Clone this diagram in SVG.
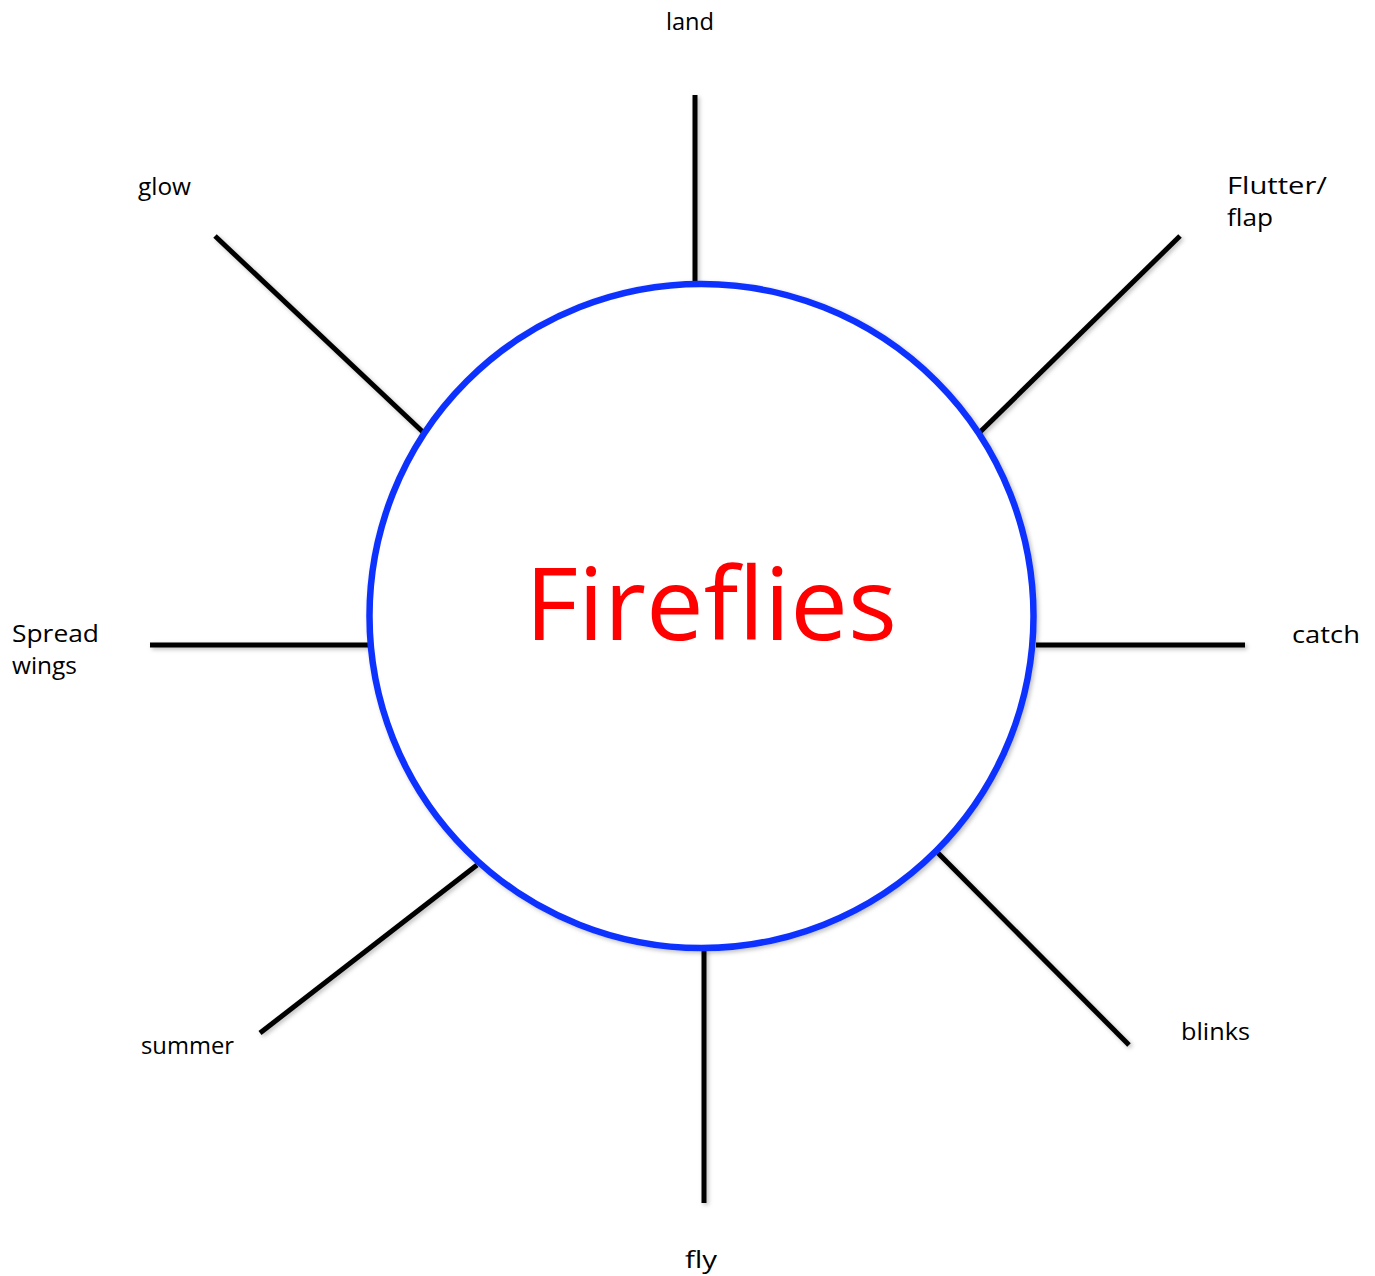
<svg xmlns="http://www.w3.org/2000/svg" width="1375" height="1276" viewBox="0 0 1375 1276">
<defs>
<filter id="sh" x="-10%" y="-10%" width="120%" height="120%">
<feDropShadow dx="2" dy="2" stdDeviation="2" flood-color="#000" flood-opacity="0.25"/>
</filter>
<style>
.spoke{stroke:#000;stroke-width:5;fill:none}
.lbl{font-family:"Comic Sans MS","Open Sans","DejaVu Sans",sans-serif;font-size:24px;fill:#000}
.title{font-family:"Comic Sans MS","Open Sans","DejaVu Sans",sans-serif;font-size:100px;fill:#ff0000}
</style>
</defs>
<rect width="1375" height="1276" fill="#fff"/>
<g id="connectors" filter="url(#sh)">
<line class="spoke" x1="695" y1="95" x2="695" y2="284"/>
<line class="spoke" x1="1180" y1="236" x2="978" y2="434"/>
<line class="spoke" x1="1036" y1="645" x2="1245" y2="645"/>
<line class="spoke" x1="938" y1="853" x2="1129" y2="1045"/>
<line class="spoke" x1="704" y1="949" x2="704" y2="1203"/>
<line class="spoke" x1="477" y1="865" x2="260" y2="1033"/>
<line class="spoke" x1="150" y1="645" x2="369" y2="645"/>
<line class="spoke" x1="215" y1="236" x2="425" y2="434"/>
</g>
<g id="center">
<circle cx="701.5" cy="616" r="332" fill="#fff" stroke="#1133ff" stroke-width="6.5" filter="url(#sh)"/>
<text class="title" x="525" y="640" textLength="372" lengthAdjust="spacingAndGlyphs">Fireflies</text>
</g>
<g id="n-land"><text class="lbl" x="666" y="30" textLength="48" lengthAdjust="spacingAndGlyphs">land</text></g>
<g id="n-flutter"><text class="lbl" x="1227" y="194" textLength="100" lengthAdjust="spacingAndGlyphs">Flutter/</text><text class="lbl" x="1227" y="226" textLength="46" lengthAdjust="spacingAndGlyphs">flap</text></g>
<g id="n-catch"><text class="lbl" x="1292" y="643" textLength="68" lengthAdjust="spacingAndGlyphs">catch</text></g>
<g id="n-blinks"><text class="lbl" x="1181" y="1040" textLength="69" lengthAdjust="spacingAndGlyphs">blinks</text></g>
<g id="n-fly"><text class="lbl" x="685" y="1268" textLength="32" lengthAdjust="spacingAndGlyphs">fly</text></g>
<g id="n-summer"><text class="lbl" x="141" y="1054" textLength="93" lengthAdjust="spacingAndGlyphs">summer</text></g>
<g id="n-spread"><text class="lbl" x="12" y="642" textLength="87" lengthAdjust="spacingAndGlyphs">Spread</text><text class="lbl" x="12" y="674" textLength="65" lengthAdjust="spacingAndGlyphs">wings</text></g>
<g id="n-glow"><text class="lbl" x="138" y="195" textLength="53" lengthAdjust="spacingAndGlyphs">glow</text></g>
</svg>
